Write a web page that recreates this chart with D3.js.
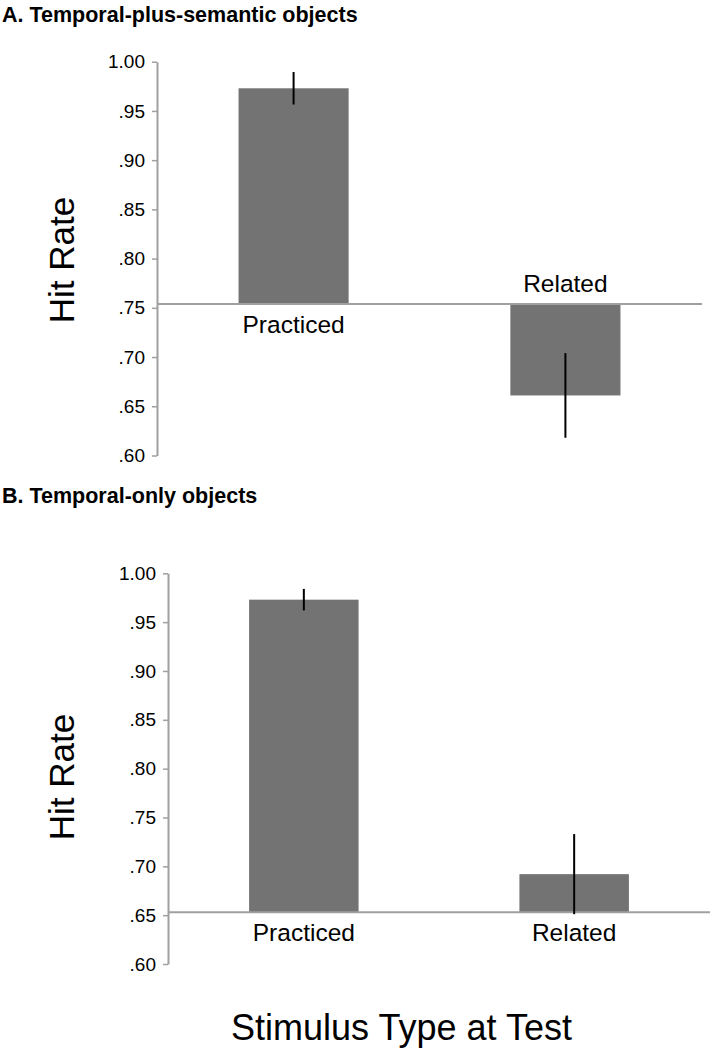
<!DOCTYPE html>
<html>
<head>
<meta charset="utf-8">
<script src="https://cdn.jsdelivr.net/npm/d3@7"></script>
<style>
  html, body { margin: 0; padding: 0; background: #fff; }
  svg { display: block; }
  text { font-family: "Liberation Sans", Arial, sans-serif; }
</style>
</head>
<body>
<svg id="chart" width="711" height="1050"></svg>
<script>
// ---- data ----
const categories = ["Practiced", "Related"];
const hitA = [0.973, 0.661];
const errA = [0.0165, 0.043];
const hitB = [0.973, 0.692];
const errB = [0.011, 0.041];
const crossA = 0.754;   // value where horizontal axis crosses (panel A)
const crossB = 0.653;   // value where horizontal axis crosses (panel B)
const yTicks = [0.60, 0.65, 0.70, 0.75, 0.80, 0.85, 0.90, 0.95, 1.00];
const yTickLabels = [".60", ".65", ".70", ".75", ".80", ".85", ".90", ".95", "1.00"];
const titles = ["A. Temporal-plus-semantic objects", "B. Temporal-only objects"];
const yTitle = "Hit Rate";
const xTitle = "Stimulus Type at Test";

const svg = d3.select("#chart");
const axisColor = "#a0a0a0";
const barColor = "#737373";

const panels = [
  { title: titles[0], titleY: 22, vals: hitA, errs: errA, cross: crossA,
    xRange: [157, 702], yRange: [455.5, 61.7], labelsBelow: [true, false],
    yTitleY: 260, labelGap: 14 },
  { title: titles[1], titleY: 503, vals: hitB, errs: errB, cross: crossB,
    xRange: [168, 710], yRange: [964, 573.3], labelsBelow: [true, true],
    yTitleY: 777, labelGap: 14 }
];

panels.forEach(p => {
  const g = svg.append("g");
  const x = d3.scaleBand().domain(categories).range(p.xRange)
    .paddingInner(0.595).paddingOuter(0.3);
  const y = d3.scaleLinear().domain([0.6, 1.0]).range(p.yRange);
  const axisX = p.xRange[0];

  // title
  g.append("text").attr("x", 2).attr("y", p.titleY)
    .attr("font-size", 21.5).attr("font-weight", "bold").attr("fill", "#000")
    .text(p.title);

  // y axis
  const yAxis = d3.axisLeft(y).tickValues(yTicks)
    .tickFormat((d, i) => yTickLabels[i]).tickSize(5).tickSizeOuter(0).tickPadding(7);
  const ag = g.append("g").attr("transform", `translate(${axisX},0)`).call(yAxis);
  ag.select(".domain").attr("stroke", axisColor).attr("stroke-width", 2);
  ag.selectAll(".tick line").attr("stroke", axisColor).attr("stroke-width", 1.5);
  ag.selectAll(".tick text").attr("font-size", 19).attr("fill", "#000")
    .attr("font-family", "Liberation Sans, Arial, sans-serif");

  // bars
  const data = categories.map((c, i) => ({ c, v: p.vals[i], e: p.errs[i], below: p.labelsBelow[i] }));
  g.selectAll("rect.bar").data(data).join("rect")
    .attr("class", "bar")
    .attr("x", d => x(d.c))
    .attr("width", x.bandwidth())
    .attr("y", d => Math.min(y(d.v), y(p.cross)))
    .attr("height", d => Math.abs(y(d.v) - y(p.cross)))
    .attr("fill", barColor);

  // horizontal axis line at crossing
  g.append("line")
    .attr("x1", axisX).attr("x2", p.xRange[1])
    .attr("y1", y(p.cross)).attr("y2", y(p.cross))
    .attr("stroke", axisColor).attr("stroke-width", 2);

  // error bars
  g.selectAll("line.err").data(data).join("line")
    .attr("class", "err")
    .attr("x1", d => x(d.c) + x.bandwidth() / 2)
    .attr("x2", d => x(d.c) + x.bandwidth() / 2)
    .attr("y1", d => y(d.v + d.e))
    .attr("y2", d => y(d.v - d.e))
    .attr("stroke", "#000").attr("stroke-width", 2);

  // category labels
  g.selectAll("text.cat").data(data).join("text")
    .attr("class", "cat")
    .attr("x", d => x(d.c) + x.bandwidth() / 2)
    .attr("y", d => d.below ? y(p.cross) + 29 : y(p.cross) - 12)
    .attr("text-anchor", "middle")
    .attr("font-size", 24.5).attr("fill", "#000")
    .text(d => d.c);

  // y title
  g.append("text")
    .attr("transform", `translate(74,${p.yTitleY}) rotate(-90)`)
    .attr("text-anchor", "middle")
    .attr("font-size", 35).attr("fill", "#000")
    .text(yTitle);
});

// x title
svg.append("text").attr("x", 401.5).attr("y", 1040)
  .attr("text-anchor", "middle").attr("font-size", 36).attr("fill", "#000")
  .text(xTitle);
</script>
</body>
</html>
